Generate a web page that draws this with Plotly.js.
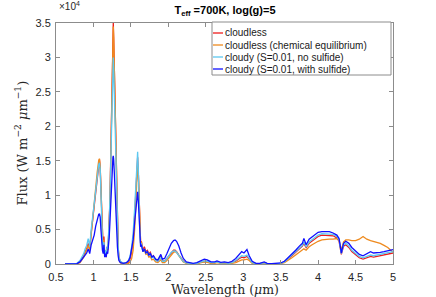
<!DOCTYPE html>
<html><head><meta charset="utf-8">
<script src="https://cdn.plot.ly/plotly-3.0.1.min.js"></script>
<style>html,body{margin:0;padding:0;background:#fff}#chart{width:436px;height:297px}</style>
</head><body><div id="chart"></div>
<script>
// Wavelength (micron)
const wavelength = [
0.62,0.70,0.78,0.82,0.85,0.87,0.89,0.91,0.93,0.95,
0.97,0.99,1.01,1.03,1.05,1.07,1.08,1.09,1.10,1.11,
1.12,1.13,1.14,1.15,1.16,1.17,1.18,1.19,1.20,1.21,
1.22,1.23,1.24,1.25,1.26,1.265,1.27,1.28,1.29,1.30,
1.31,1.32,1.33,1.34,1.36,1.40,1.44,1.47,1.49,1.51,
1.53,1.55,1.57,1.58,1.59,1.60,1.61,1.62,1.63,1.64,
1.66,1.68,1.70,1.72,1.74,1.76,1.78,1.80,1.83,1.86,
1.88,1.90,1.92,1.95,1.98,2.01,2.04,2.07,2.09,2.11,
2.14,2.17,2.20,2.24,2.28,2.33,2.38,2.43,2.48,2.52,
2.57,2.62,2.65,2.70,2.75,2.80,2.85,2.90,2.95,2.98,
3.01,3.05,3.08,3.12,3.17,3.22,3.28,3.32,3.38,3.45,
3.50,3.55,3.60,3.65,3.70,3.75,3.79,3.81,3.84,3.88,
3.92,3.96,4.00,4.05,4.10,4.15,4.20,4.25,4.28,4.31,
4.34,4.37,4.41,4.45,4.50,4.55,4.60,4.65,4.70,4.74,
4.78,4.83,4.88,4.93,4.97,5.00];

// Flux in units of 1e4 W m^-2 um^-1
const cloudless = [
0,0,0.005,0.03,0.08,0.12,0.18,0.22,0.30,0.22,
0.45,0.65,0.9,1.1,1.3,1.48,1.52,1.4,1.05,0.6,
0.3,0.2,0.4,0.15,0.2,0.12,0.25,0.2,0.35,0.55,
0.9,1.5,2.2,2.9,3.3,3.5,3.3,2.7,2.1,1.5,
0.9,0.5,0.25,0.1,0.03,0.01,0.01,0.03,0.08,0.18,
0.35,0.7,1.2,1.5,1.55,1.3,0.8,0.4,0.3,0.33,
0.2,0.25,0.18,0.2,0.15,0.17,0.1,0.12,0.06,0.04,
0.08,0.12,0.05,0.04,0.08,0.12,0.17,0.2,0.2,0.18,
0.13,0.08,0.04,0.015,0.01,0.005,0.01,0.03,0.04,0.035,
0.015,0.02,0.03,0.015,0.02,0.01,0.02,0.04,0.08,0.1,
0.09,0.11,0.07,0.02,0.005,0.005,0.02,0.005,0.003,0.005,
0.01,0.03,0.07,0.12,0.17,0.22,0.26,0.3,0.24,0.3,
0.33,0.37,0.4,0.42,0.42,0.42,0.41,0.38,0.33,0.14,
0.26,0.28,0.24,0.18,0.13,0.09,0.07,0.09,0.11,0.1,
0.11,0.12,0.13,0.14,0.15,0.16];

const cloudlessChemEq = [
0,0,0.005,0.02,0.06,0.1,0.15,0.2,0.27,0.2,
0.45,0.67,0.93,1.13,1.33,1.5,1.53,1.42,1.05,0.6,
0.3,0.18,0.35,0.14,0.18,0.1,0.22,0.2,0.33,0.52,
0.88,1.45,2.15,2.85,3.3,3.45,3.3,2.7,2.05,1.45,
0.88,0.48,0.22,0.08,0.02,0.005,0.005,0.01,0.03,0.08,
0.2,0.5,1.0,1.3,1.45,1.3,0.85,0.42,0.3,0.32,
0.18,0.2,0.14,0.15,0.1,0.11,0.06,0.07,0.03,0.02,
0.04,0.06,0.02,0.02,0.05,0.09,0.14,0.17,0.18,0.17,
0.12,0.07,0.03,0.01,0.005,0.003,0.005,0.02,0.03,0.025,
0.01,0.01,0.02,0.01,0.01,0.005,0.01,0.02,0.05,0.06,
0.06,0.07,0.05,0.01,0.003,0.003,0.01,0.003,0.002,0.003,
0.005,0.02,0.05,0.09,0.13,0.17,0.2,0.22,0.2,0.25,
0.28,0.31,0.33,0.35,0.36,0.36,0.36,0.37,0.35,0.2,
0.32,0.35,0.35,0.34,0.34,0.36,0.4,0.36,0.34,0.33,
0.32,0.3,0.27,0.24,0.2,0.17];

const cloudyNoSulfide = [
0,0,0.01,0.05,0.1,0.15,0.22,0.27,0.37,0.25,
0.5,0.7,0.92,1.1,1.3,1.44,1.47,1.38,1.05,0.6,
0.3,0.22,0.32,0.15,0.2,0.13,0.25,0.22,0.38,0.6,
0.95,1.5,2.1,2.6,2.9,3.0,2.85,2.4,1.9,1.4,
0.85,0.5,0.25,0.1,0.04,0.01,0.02,0.05,0.12,0.25,
0.45,0.8,1.3,1.6,1.63,1.35,0.8,0.4,0.28,0.3,
0.18,0.22,0.16,0.18,0.13,0.15,0.09,0.1,0.05,0.04,
0.07,0.1,0.04,0.04,0.08,0.12,0.17,0.19,0.19,0.17,
0.12,0.07,0.035,0.015,0.01,0.005,0.01,0.03,0.045,0.04,
0.02,0.02,0.03,0.015,0.02,0.01,0.02,0.05,0.1,0.12,
0.11,0.13,0.08,0.02,0.005,0.005,0.02,0.005,0.003,0.005,
0.01,0.03,0.08,0.13,0.18,0.23,0.27,0.32,0.25,0.32,
0.35,0.39,0.42,0.44,0.44,0.44,0.43,0.4,0.35,0.15,
0.28,0.3,0.26,0.2,0.15,0.11,0.09,0.11,0.13,0.12,
0.13,0.14,0.15,0.16,0.17,0.18];

const cloudyWithSulfide = [
0,0,0.005,0.03,0.07,0.1,0.14,0.16,0.22,0.15,
0.28,0.35,0.42,0.55,0.65,0.72,0.73,0.68,0.5,0.32,
0.2,0.15,0.28,0.1,0.15,0.1,0.18,0.15,0.25,0.38,
0.6,0.9,1.2,1.45,1.55,1.57,1.52,1.3,1.0,0.72,
0.45,0.25,0.12,0.05,0.02,0.01,0.02,0.05,0.1,0.2,
0.35,0.6,0.9,1.02,1.05,0.9,0.6,0.35,0.25,0.28,
0.18,0.22,0.16,0.18,0.13,0.15,0.1,0.12,0.07,0.06,
0.1,0.14,0.07,0.08,0.15,0.22,0.3,0.34,0.35,0.33,
0.26,0.16,0.08,0.03,0.02,0.01,0.02,0.05,0.07,0.06,
0.03,0.03,0.045,0.025,0.03,0.02,0.04,0.08,0.15,0.18,
0.16,0.21,0.12,0.04,0.01,0.01,0.03,0.01,0.005,0.01,
0.015,0.04,0.09,0.15,0.2,0.26,0.3,0.37,0.28,0.36,
0.39,0.42,0.46,0.47,0.47,0.47,0.45,0.42,0.37,0.16,
0.3,0.33,0.3,0.24,0.19,0.14,0.12,0.15,0.18,0.16,
0.16,0.17,0.18,0.19,0.2,0.21];

const seriesNames = ["cloudless","cloudless (chemical equilibrium)","cloudy (S=0.01, no sulfide)","cloudy (S=0.01, with sulfide)"];
const seriesColors = ["#ee1c1c","#ee8a1e","#5cc8f0","#1010ff"];
const seriesData = [cloudless, cloudlessChemEq, cloudyNoSulfide, cloudyWithSulfide];
const xTicks = [0.5,1,1.5,2,2.5,3,3.5,4,4.5,5];
const yTicks = [0,0.5,1,1.5,2,2.5,3,3.5];

const traces = seriesData.map((y,i)=>({
  x: wavelength, y: y, type:'scatter', mode:'lines', name: seriesNames[i],
  line:{color: seriesColors[i], width: 1.3}, showlegend:false
}));

// legend (decoration) geometry in paper coords
const plotL=56, plotR=393, plotT=23, plotB=264;
const px2x = p => (p-plotL)/(plotR-plotL);
const py2y = p => (plotB-p)/(plotB-plotT);
const shapes = [{type:'rect', xref:'paper', yref:'paper', x0:px2x(212), x1:px2x(391), y0:py2y(75), y1:py2y(22),
  line:{color:'#8c8c8c', width:1}, fillcolor:'#ffffff', layer:'above'}];
const annotations = [];
const rowsY = [33,45,57,69];
seriesNames.forEach((n,i)=>{
  shapes.push({type:'line', xref:'paper', yref:'paper', x0:px2x(213), x1:px2x(223), y0:py2y(rowsY[i]), y1:py2y(rowsY[i]),
    line:{color:seriesColors[i], width:1.3}, layer:'above'});
  annotations.push({xref:'paper', yref:'paper', x:px2x(223), y:py2y(rowsY[i]), xanchor:'left', yanchor:'middle',
    text:n, showarrow:false, font:{family:'Liberation Sans, Arial, sans-serif', size:10, color:'#1a1a1a'}});
});
annotations.push({xref:'paper', yref:'paper', x:px2x(57), y:py2y(6), xanchor:'left', yanchor:'middle',
  text:'×10<sup>4</sup>', showarrow:false, font:{family:'Liberation Sans, Arial, sans-serif', size:10, color:'#262626'}});
annotations.push({xref:'paper', yref:'paper', x:px2x(21), y:0.5, xanchor:'center', yanchor:'middle', textangle:-90,
  text:'Flux (W m<sup>−2</sup> <i>μ</i>m<sup>−1</sup>)', showarrow:false, font:{family:'DejaVu Serif, serif', size:13, color:'#262626'}});
annotations.push({xref:'paper', yref:'paper', x:0.5, y:py2y(289), xanchor:'center', yanchor:'middle',
  text:'Wavelength (<i>μ</i>m)', showarrow:false, font:{family:'DejaVu Serif, serif', size:12.5, color:'#262626'}});

const axisCommon = {showgrid:false, zeroline:false, showline:true, linecolor:'#8c8c8c', linewidth:1, mirror:'ticks',
  ticks:'inside', ticklen:4, tickcolor:'#8c8c8c', tickfont:{family:'Liberation Sans, Arial, sans-serif', size:11, color:'#262626'}};

const layout = {
  width:436, height:297, margin:{l:plotL, r:436-plotR, t:plotT, b:297-plotB},
  paper_bgcolor:'#fff', plot_bgcolor:'#fff',
  title:{text:'<b>T<sub>eff</sub> =700K, log(g)=5</b>', x:0.516, xanchor:'center', y:1-10/297, yanchor:'middle',
    font:{family:'Liberation Sans, Arial, sans-serif', size:11, color:'#000'}},
  xaxis:Object.assign({}, axisCommon, {range:[0.5,5], tickvals:xTicks, ticktext:xTicks.map(String), ticklabelstandoff:3}),
  yaxis:Object.assign({}, axisCommon, {range:[0,3.5], tickvals:yTicks, ticktext:yTicks.map(String), ticklabelstandoff:2}),
  shapes:shapes, annotations:annotations
};
Plotly.newPlot('chart', traces, layout, {staticPlot:true, displayModeBar:false});
</script></body></html>
